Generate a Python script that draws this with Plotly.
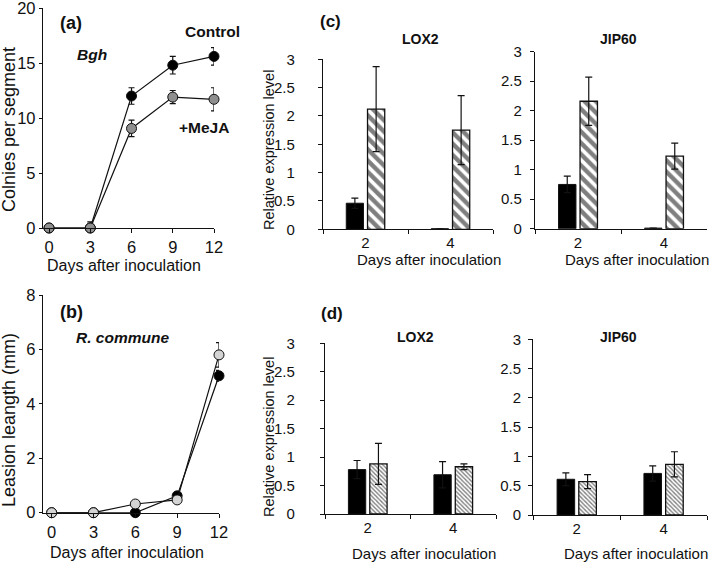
import plotly.graph_objects as go

W, H = 709, 562
FONT = "Liberation Sans, Arial, sans-serif"
INK = "#111111"

# ---------------- data ----------------
days = [0, 3, 6, 9, 12]
# (a) Bgh colonies per segment
bgh_control = [0, 0, 12.0, 14.8, 15.6]
bgh_control_err = [0, 0, 0.75, 0.8, 0.8]
bgh_meja = [0, 0, 9.05, 11.9, 11.7]
bgh_meja_err = [0, 0.55, 0.75, 0.6, 1.05]
# (b) R. commune lesion length
rc_control = [0, 0, 0, 0.62, 5.03]
rc_control_err = [0, 0, 0, 0, 0.2]
rc_meja = [0, 0, 0.32, 0.47, 5.8]
rc_meja_err = [0, 0, 0, 0, 0.45]

categories = ["2", "4"]
# (c) relative expression
c_lox2_control = [0.46, 0.01]
c_lox2_control_err = [0.09, 0]
c_lox2_meja = [2.12, 1.75]
c_lox2_meja_err = [0.75, 0.61]
c_jip60_control = [0.75, 0.01]
c_jip60_control_err = [0.14, 0]
c_jip60_meja = [2.16, 1.23]
c_jip60_meja_err = [0.41, 0.22]
# (d) relative expression
d_lox2_control = [0.78, 0.69]
d_lox2_control_err = [0.16, 0.23]
d_lox2_meja = [0.88, 0.83]
d_lox2_meja_err = [0.36, 0.05]
d_jip60_control = [0.61, 0.71]
d_jip60_control_err = [0.11, 0.13]
d_jip60_meja = [0.57, 0.865]
d_jip60_meja_err = [0.12, 0.215]


def xd(a, b):
    return [a / W, b / W]


def yd(top, bottom):
    return [1 - bottom / H, 1 - top / H]


def err(arr, w=3.5):
    return dict(type="data", array=arr, visible=True, color=INK, thickness=1.2, width=w)


fig = go.Figure()


def add_line(xa, ya, y, e, fill):
    fig.add_trace(go.Scatter(
        x=days, y=y, xaxis=xa, yaxis=ya, mode="lines+markers", cliponaxis=False,
        line=dict(color=INK, width=1.2),
        marker=dict(size=10, color=fill, line=dict(color=INK, width=1)),
        error_y=err(e, 3), showlegend=False))


add_line("x", "y", bgh_control, bgh_control_err, "#000000")
add_line("x", "y", bgh_meja, bgh_meja_err, "#8f8f8f")
add_line("x2", "y2", rc_control, rc_control_err, "#000000")
add_line("x2", "y2", rc_meja, rc_meja_err, "#d4d4d4")


def add_bars(xa, ya, ctrl, ctrl_e, meja, meja_e, psize, psol, shape):
    fig.add_trace(go.Bar(
        x=categories, y=ctrl, xaxis=xa, yaxis=ya,
        marker=dict(color="#000000", line=dict(color=INK, width=1)),
        error_y=err(ctrl_e), showlegend=False))
    fig.add_trace(go.Bar(
        x=categories, y=meja, xaxis=xa, yaxis=ya,
        marker=dict(color="white", line=dict(color=INK, width=1.3),
                    pattern=dict(shape=shape, fgcolor="#000000", bgcolor="white",
                                 size=psize, solidity=psol)),
        error_y=err(meja_e), showlegend=False))


add_bars("x3", "y3", c_lox2_control, c_lox2_control_err, c_lox2_meja, c_lox2_meja_err, 8, 0.55, "\\")
add_bars("x4", "y4", c_jip60_control, c_jip60_control_err, c_jip60_meja, c_jip60_meja_err, 8, 0.55, "\\")
add_bars("x5", "y5", d_lox2_control, d_lox2_control_err, d_lox2_meja, d_lox2_meja_err, 3, 0.45, "\\")
add_bars("x6", "y6", d_jip60_control, d_jip60_control_err, d_jip60_meja, d_jip60_meja_err, 3, 0.45, "\\")


def axis(size):
    return dict(showline=True, linecolor=INK, linewidth=1.3, ticks="outside", ticklen=4,
                tickwidth=1.3, tickcolor=INK, showgrid=False, zeroline=False, automargin=False,
                ticklabeloverflow="allow",
                tickfont=dict(family=FONT, size=size, color=INK))


big = axis(16.5)
small = axis(15)

lay = dict(
    width=W, height=H, margin=dict(l=0, r=0, t=0, b=0, autoexpand=False),
    paper_bgcolor="white", plot_bgcolor="white",
    barmode="group", bargap=0.5, bargroupgap=0.19,
    font=dict(family=FONT, color=INK),
)

# (a)
lay["xaxis"] = dict(big, domain=xd(43, 214), range=[-0.44, 12], tickvals=days,
                    anchor="y", ticklabelstandoff=0)
lay["yaxis"] = dict(big, domain=yd(8, 228), range=[0, 20], dtick=5, anchor="x", ticklen=3)
# (b)
lay["xaxis2"] = dict(big, domain=xd(43, 219), range=[-0.62, 12], tickvals=days,
                     anchor="y2", ticklabelstandoff=0)
lay["yaxis2"] = dict(big, domain=yd(295, 512.7), range=[0, 8], dtick=2, anchor="x2", ticklen=3)

bar_x = dict(small, type="category", tickson="boundaries", ticklabelstandoff=0)
# (c)
lay["xaxis3"] = dict(bar_x, domain=xd(323, 493), anchor="y3")
lay["yaxis3"] = dict(small, domain=yd(59.3, 229.3), range=[0, 3], dtick=0.5, anchor="x3",
                     ticklabelstandoff=20)
lay["xaxis4"] = dict(bar_x, domain=xd(535, 707), anchor="y4")
lay["yaxis4"] = dict(small, domain=yd(51.7, 228.7), range=[0, 3], dtick=0.5, anchor="x4",
                     ticklabelstandoff=5)
# (d)
lay["xaxis5"] = dict(bar_x, domain=xd(325, 496), anchor="y5")
lay["yaxis5"] = dict(small, domain=yd(343.3, 514), range=[0, 3], dtick=0.5, anchor="x5",
                     ticklabelstandoff=22)
lay["xaxis6"] = dict(bar_x, domain=xd(533.3, 707), anchor="y6")
lay["yaxis6"] = dict(small, domain=yd(339.3, 515), range=[0, 3], dtick=0.5, anchor="x6",
                     ticklabelstandoff=4)

fig.update_layout(**lay)


def note(text, px, py, size=15, angle=0):
    fig.add_annotation(text=text, x=px / W, y=1 - py / H, xref="paper", yref="paper",
                       showarrow=False, xanchor="center", yanchor="middle", textangle=angle,
                       font=dict(family=FONT, size=size, color=INK))


# panel labels and in-plot text
note("<b>(a)</b>", 71, 22.5, 18)
note("<b>Control</b>", 213, 31.7, 15.5)
note("<b><i>Bgh</i></b>", 92, 55, 15.5)
note("<b>+MeJA</b>", 204, 128, 15.5)
note("<b>(b)</b>", 71, 311.7, 18)
note("<b><i>R. commune</i></b>", 122, 337, 15.5)
note("<b>(c)</b>", 330, 21.7, 17)
note("<b>LOX2</b>", 420, 39.3, 14)
note("<b>JIP60</b>", 618, 39.3, 14)
note("<b>(d)</b>", 332, 313.3, 17)
note("<b>LOX2</b>", 415, 336.7, 14)
note("<b>JIP60</b>", 618, 337.3, 14)

# axis titles
note("Colnies per segment", 9, 130, 18, -90)
note("Leasion leangth (mm)", 9, 420, 18, -90)
note("Relative expression level", 269, 150, 14.5, -90)
note("Relative expression level", 269, 437, 14.5, -90)
note("Days after inoculation", 124, 265, 16)
note("Days after inoculation", 127, 552, 16)
note("Days after inoculation", 429, 259, 15)
note("Days after inoculation", 637, 259, 15)
note("Days after inoculation", 424, 553, 15)
note("Days after inoculation", 636, 553, 15)

fig.write_html("out.html", config={"displayModeBar": False},
               post_script="document.body.style.margin='0px';document.body.style.padding='0px';")
